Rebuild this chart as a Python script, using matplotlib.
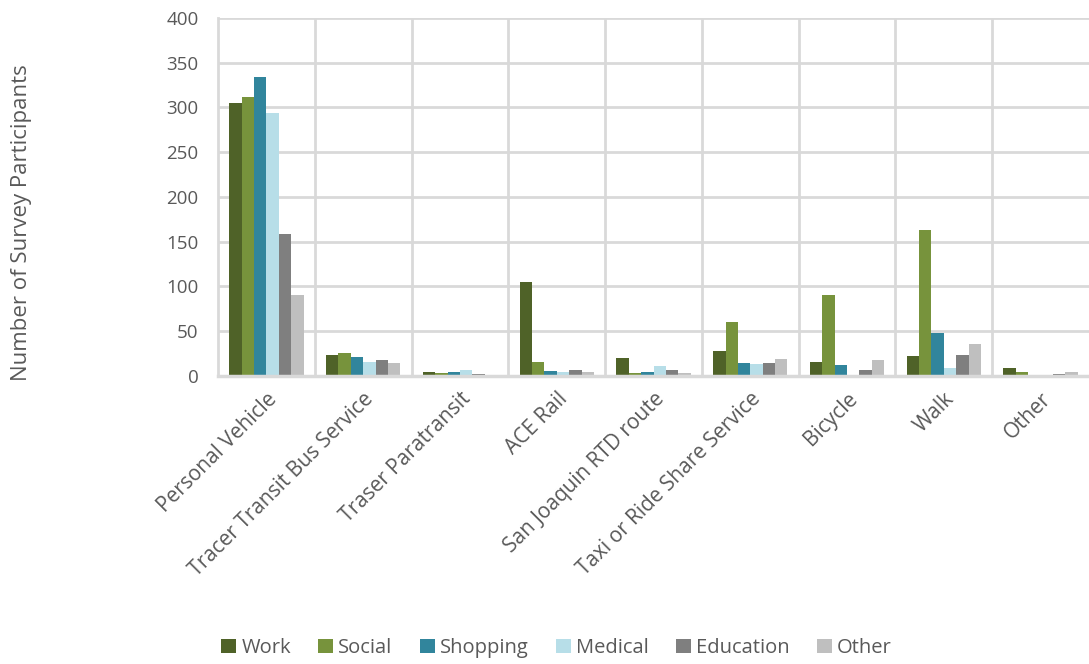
import numpy as np
import matplotlib.pyplot as plt

# mode of travel by trip purpose
modes = ['Personal Vehicle', 'Tracer Transit Bus Service', 'Traser Paratransit',
         'ACE Rail', 'San Joaquin RTD route', 'Taxi or Ride Share Service',
         'Bicycle', 'Walk', 'Other']
purposes = ['Work', 'Social', 'Shopping', 'Medical', 'Education', 'Other']

work = [305, 24, 4, 105, 20, 28, 16, 22, 9]
social = [312, 26, 3, 16, 3, 60, 90, 163, 5]
shopping = [334, 21, 5, 6, 4, 14, 12, 48, 1]
medical = [294, 16, 7, 5, 11, 13, 1, 9, 0]
education = [159, 18, 2, 7, 7, 15, 7, 24, 2]
other = [90, 14, 0, 5, 3, 19, 18, 36, 5]

series = [work, social, shopping, medical, education, other]
colors = ['#4F6228', '#77933C', '#31859C', '#B7DEE8', '#7F7F7F', '#BFBFBF']

plt.rcParams['font.family'] = ['Open Sans', 'DejaVu Sans']
text_col = '#595959'
grid_col = '#D9D9D9'

fig = plt.figure(figsize=(10.89, 6.64), dpi=100)
ax = fig.add_axes([0.2002, 0.4337, 0.7998, 0.5393])

x = np.arange(len(modes))
w = 0.128
for i, (vals, c) in enumerate(zip(series, colors)):
    ax.bar(x + (i - 2.5) * w, vals, w, color=c, label=purposes[i], zorder=3)

ax.set_xlim(-0.5, len(modes) - 0.5)
ax.set_ylim(0, 400)
ax.set_yticks(range(0, 401, 50))
ax.set_xticks(x)
ax.set_xticklabels(modes, rotation=45, ha='right', va='top', rotation_mode='anchor')
ax.tick_params(axis='both', length=0, colors=text_col)
ax.tick_params(axis='y', pad=14, labelsize=13.5)
ax.tick_params(axis='x', pad=9, labelsize=15)

ax.yaxis.grid(True, color=grid_col, linewidth=2, zorder=0)
for b in np.arange(0.5, len(modes) - 0.5, 1):
    ax.axvline(b, color=grid_col, linewidth=2, zorder=0)
for s in ['top', 'right']:
    ax.spines[s].set_visible(False)
ax.spines['left'].set_color(grid_col)
ax.spines['left'].set_linewidth(2)
ax.spines['bottom'].set_color(grid_col)
ax.spines['bottom'].set_linewidth(2.5)
ax.spines['bottom'].set_zorder(4)

fig.text(0.02, 0.665, 'Number of Survey Participants', rotation=90,
         ha='center', va='center', fontsize=16, color=text_col)

fig.legend(loc='center', bbox_to_anchor=(0.511, 0.024), ncol=6, frameon=False,
           fontsize=14.5, labelcolor=text_col, handlelength=0.75, handleheight=0.75,
           handletextpad=0.25, columnspacing=1.35)

fig.savefig('out.png', dpi=100)
